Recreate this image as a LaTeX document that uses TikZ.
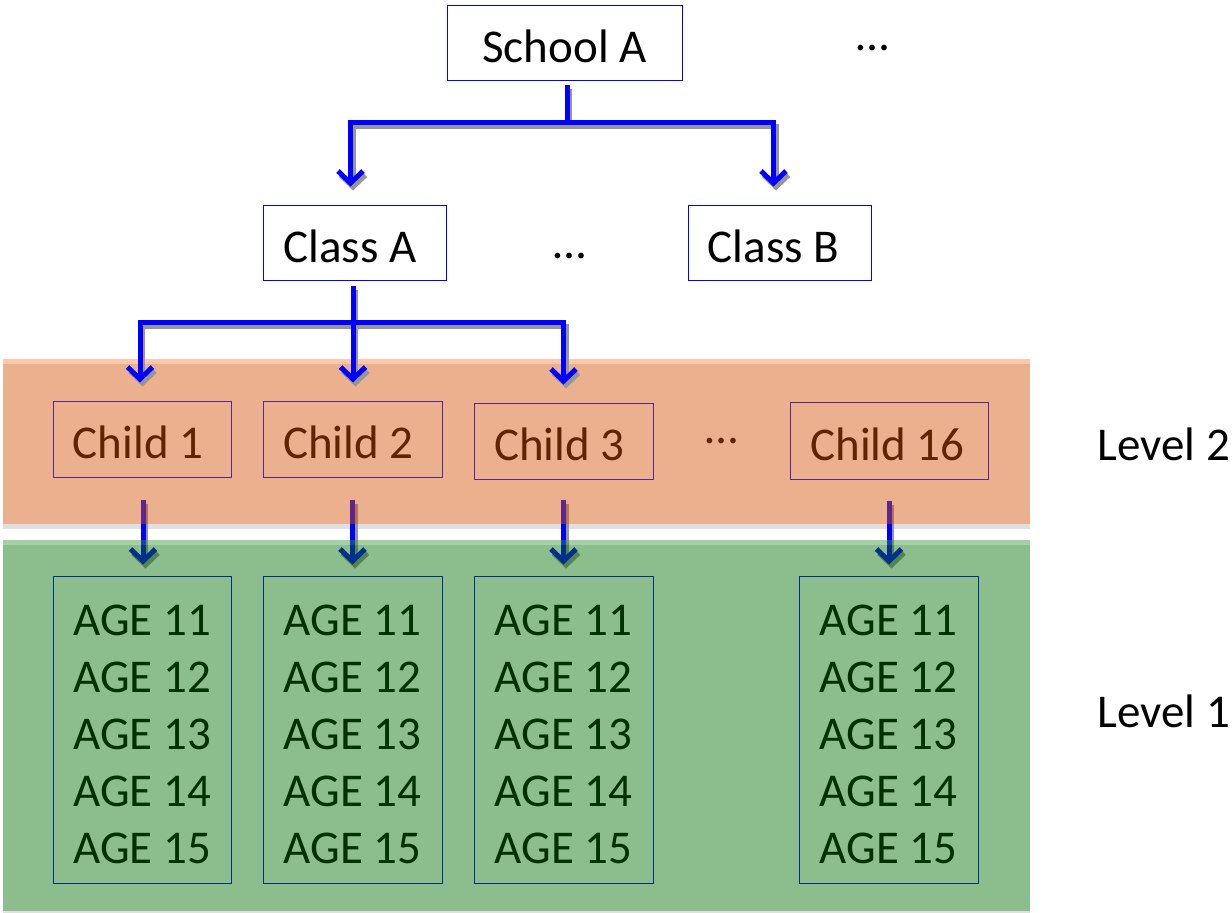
\documentclass[tikz,border=0pt]{standalone}
\usepackage{fontspec}
\setmainfont{Carlito}
\usetikzlibrary{arrows.meta}
\definecolor{bandor}{RGB}{211,82,4}
\definecolor{bandorlt}{RGB}{255,133,62}
\definecolor{bandgr}{RGB}{1,108,1}
\definecolor{bandgrlt}{RGB}{55,150,55}
\definecolor{boxblue}{RGB}{0,0,255}
\definecolor{shdgray}{RGB}{150,150,150}
\begin{document}
\begin{tikzpicture}[x=1pt,y=-1pt,
  every node/.style={font=\fontsize{47}{56.9}\selectfont, inner sep=0pt},
  box/.style={draw=boxblue, line width=1pt, minimum height=75pt, text height=39pt, text depth=0pt},
  agebox/.style={draw=boxblue, line width=1pt, minimum height=307pt, minimum width=178pt, align=center, text height=267pt, text depth=0pt},
  lvl/.style={text height=37pt, text depth=0pt},
  conn/.style={draw=boxblue, line width=5pt, line join=miter},
  shd/.style={draw=shdgray, line width=5pt, line join=miter, transform canvas={xshift=2.5pt,yshift=-4pt}},
  arrowtip/.style={-{Straight Barb[length=12pt,width=25pt]}},
]
\useasboundingbox (0,0) rectangle (1232,913);

% gray shadow strips under bands
\fill[black!12] (3,524) rectangle (1030,529);
\fill[black!12] (3,911) rectangle (1030,913);

% top nodes
\node[box, minimum width=235pt] (sA) at (564.5,42.5) {School A};
\node (dots1) at (873,48) {…};
\node[box, minimum width=183pt] (cA) at (354.5,242.5) {Class A\kern9pt};
\node (dots2) at (570,256) {…};
\node[box, minimum width=183pt] (cB) at (779.5,242.5) {Class B\kern12pt};

% children
\node[box, minimum width=178pt, minimum height=76pt] (c1) at (142,439) {Child 1\kern8pt};
\node[box, minimum width=179pt, minimum height=76pt] (c2) at (352.5,439) {Child 2\kern8pt};
\node[box, minimum width=179pt, minimum height=76pt] (c3) at (563.5,441) {Child 3\kern8pt};
\node (dots3) at (722,441) {…};
\node[box, minimum width=198pt, minimum height=77pt] (c16) at (889,440.5) {Child 16\kern3pt};

% age boxes
\node[agebox] (a1) at (142,729.5) {AGE 11\\AGE 12\\AGE 13\\AGE 14\\AGE 15};
\node[agebox, minimum width=179pt] (a2) at (352.5,729.5) {AGE 11\\AGE 12\\AGE 13\\AGE 14\\AGE 15};
\node[agebox, minimum width=179pt] (a3) at (563.5,729.5) {AGE 11\\AGE 12\\AGE 13\\AGE 14\\AGE 15};
\node[agebox, minimum width=179pt] (a16) at (888.5,729.5) {AGE 11\\AGE 12\\AGE 13\\AGE 14\\AGE 15};

% child -> age connectors
\foreach \s in {shd,conn}{
  \draw[\s, arrowtip, shorten <=22pt, shorten >=11pt] ([xshift=1pt]c1.south) -- ([xshift=1pt]c1.south |- a1.north);
  \draw[\s, arrowtip, shorten <=22pt, shorten >=11pt] (c2.south) -- (c2.south |- a2.north);
  \draw[\s, arrowtip, shorten <=20pt, shorten >=11pt] (c3.south) -- (c3.south |- a3.north);
  \draw[\s, arrowtip, shorten <=21pt, shorten >=11pt] (c16.south) -- (c16.south |- a16.north);
}

% level bands (transparent overlay)
\fill[bandorlt, fill opacity=0.45] (3,359) rectangle (1030,364);
\fill[bandor, fill opacity=0.45] (3,364) rectangle (1030,524);
\fill[bandgrlt, fill opacity=0.45] (3,540) rectangle (1030,545);
\fill[bandgr, fill opacity=0.45] (3,545) rectangle (1030,911);

% level labels
\node[lvl] (L2) at (1164,442) {Level 2};
\node[lvl] (L1) at (1164,709) {Level 1};

% junctions
\coordinate (j1) at (567,122);
\coordinate (j2) at (353,322);

% school -> classes
\foreach \s in {shd,conn}{
  \draw[\s, shorten <=4pt] (sA.south -| j1) -- (j1);
  \draw[\s, arrowtip, shorten >=18pt] (j1) -| ([xshift=-4pt]cA.north);
  \draw[\s, arrowtip, shorten >=18pt] (j1) -| ([xshift=-6pt]cB.north);
}
% class A -> children
\foreach \s in {shd,conn}{
  \draw[\s, shorten <=5pt] (cA.south -| j2) -- (j2);
  \draw[\s, arrowtip, shorten >=18pt] (j2) -| ([xshift=-2pt]c1.north);
  \draw[\s, arrowtip, shorten >=18pt] (j2) -- (c2.north -| j2);
  \draw[\s, arrowtip, shorten >=18pt] (j2) -| (c3.north);
}
\end{tikzpicture}
\end{document}
